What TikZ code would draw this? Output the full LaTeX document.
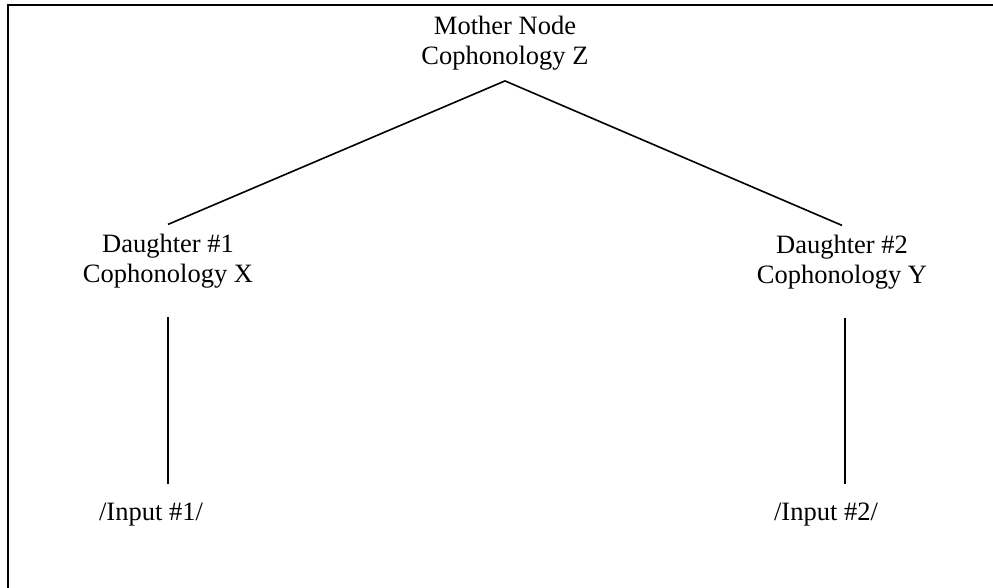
\documentclass[tikz,border=0pt]{standalone}
\usepackage{fontspec}
\setmainfont{Liberation Serif}
\usetikzlibrary{positioning}

\begin{document}
\begin{tikzpicture}[x=1pt,y=1pt,every node/.style={font=\fontsize{26.5}{30}\selectfont,align=center,inner xsep=2pt,inner ysep=10pt},
  treeline/.style={line width=1.6pt}]
\useasboundingbox (0,0) rectangle (993,588);
% frame (only left and top edges show)
\draw[line width=2pt] (8,-5) -- (8,583) -- (1000,583);
% nodes (base = last line)
\node[anchor=base] (mother) at (505,523) {Mother Node\\Cophonology Z};
\node[anchor=base] (dOne) at (168,305) {Daughter \#1\\Cophonology X};
\node[anchor=base] (dTwo) at (842,304) {Daughter \#2\\Cophonology Y};
\node[anchor=base] (inOne) at (151,67) {/Input \#1/};
\node[anchor=base] (inTwo) at (826,67) {/Input \#2/};
% branches
\draw[treeline] (dOne.north) -- (mother.south) -- (dTwo.north);
\draw[treeline,shorten >=9pt] ([yshift=-18pt]dOne.south) -- (dOne.south |- inOne.north);
\draw[treeline,shorten >=9pt] ([yshift=-18pt,xshift=3pt]dTwo.south) -- ([xshift=3pt]dTwo.south |- inTwo.north);
\end{tikzpicture}
\end{document}
